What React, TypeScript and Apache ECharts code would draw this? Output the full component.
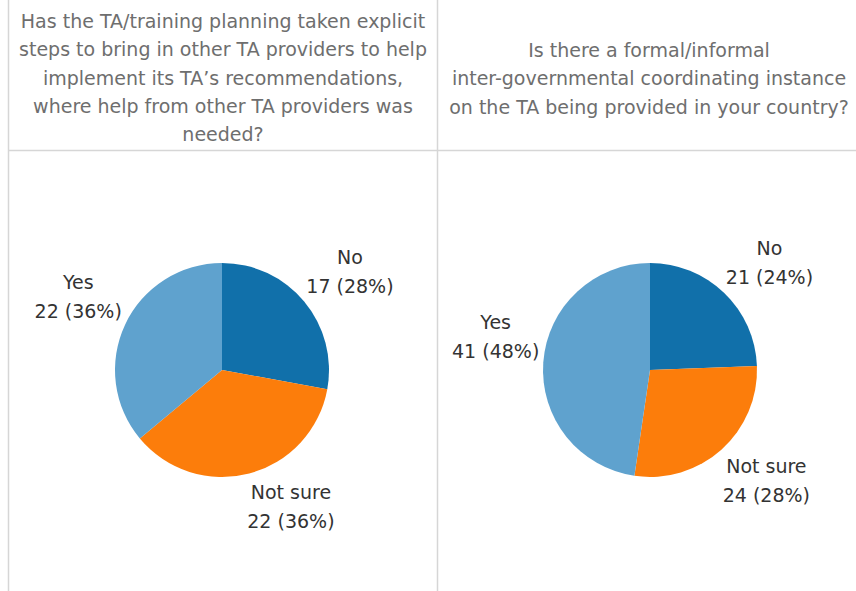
import React, { useEffect, useRef } from "react";
import * as echarts from "echarts";

const categories = ["No", "Not sure", "Yes"];
const leftValues = [17, 22, 22];
const rightValues = [21, 24, 41];
const leftTitle = [
  "Has the TA/training planning taken explicit",
  "steps to bring in other TA providers to help",
  "implement its TA\u2019s recommendations,",
  "where help from other TA providers was",
  "needed?",
];
const rightTitle = [
  "Is there a formal/informal",
  "inter-governmental coordinating instance",
  "on the TA being provided in your country?",
];
const colors = ["#1170aa", "#fc7d0b", "#5fa2ce"];

const W = 856;
const H = 591;
const R = 107;
const GAP = 8;
const INSET = 4;
const FONT = "'DejaVu Sans', sans-serif";

function makePie(values: number[], cx: number, cy: number) {
  const total = values.reduce((a, b) => a + b, 0);
  const mids: number[] = [];
  let acc = 0;
  values.forEach((v) => {
    mids.push(((acc + v / 2) / total) * Math.PI * 2);
    acc += v;
  });
  return {
    type: "pie",
    center: [cx, cy],
    radius: [0, R],
    startAngle: 90,
    clockwise: true,
    silent: true,
    data: categories.map((c, i) => ({
      name: c,
      value: values[i],
      itemStyle: { color: colors[i] },
    })),
    label: {
      show: true,
      position: "outside",
      formatter: (p: any) => `${p.name}\n${p.value} (${Math.round(p.percent)}%)`,
      fontFamily: FONT,
      fontSize: 19,
      lineHeight: 29,
      color: "#333333",
      align: "center",
      overflow: "none",
    },
    labelLine: { show: false },
    labelLayout: (p: any) => {
      const a = mids[p.dataIndex];
      const s = Math.sin(a);
      const c = Math.cos(a);
      const ax = cx + (R + GAP) * s;
      const ay = cy - (R + GAP) * c;
      const hw = p.labelRect.width / 2 - INSET;
      const hh = p.labelRect.height / 2 - INSET;
      return {
        x: ax + (s >= 0 ? hw : -hw),
        y: ay + (c >= 0 ? -hh : hh),
        align: "center",
        verticalAlign: "middle",
      };
    },
  };
}

export default function App() {
  const ref = useRef<HTMLDivElement>(null);
  useEffect(() => {
    document.body.style.margin = "0";
    if (!ref.current) return;
    const chart = echarts.init(ref.current, undefined, { renderer: "svg" });
    const lineColor = "#d6d6d6";
    const titleStyle = {
      fontFamily: FONT,
      fontSize: 19,
      fill: "#6e6e6e",
      align: "center",
      verticalAlign: "middle",
    };
    const graphics: any[] = [
      { type: "line", shape: { x1: 8.5, y1: 0, x2: 8.5, y2: H }, style: { stroke: lineColor, lineWidth: 1.5 } },
      { type: "line", shape: { x1: 437.5, y1: 0, x2: 437.5, y2: H }, style: { stroke: lineColor, lineWidth: 1.5 } },
      { type: "line", shape: { x1: 8, y1: 150.5, x2: W, y2: 150.5 }, style: { stroke: lineColor, lineWidth: 1.5 } },
    ];
    leftTitle.forEach((t, i) => {
      graphics.push({ type: "text", x: 223, y: 21 + i * 28.3, style: { ...titleStyle, text: t } });
    });
    rightTitle.forEach((t, i) => {
      graphics.push({ type: "text", x: 649, y: 50 + i * 28.3, style: { ...titleStyle, text: t } });
    });
    chart.setOption({
      animation: false,
      graphic: graphics,
      series: [makePie(leftValues, 222, 370), makePie(rightValues, 650, 370)],
    });
    return () => chart.dispose();
  }, []);
  return <div ref={ref} style={{ width: W, height: H }} />;
}
